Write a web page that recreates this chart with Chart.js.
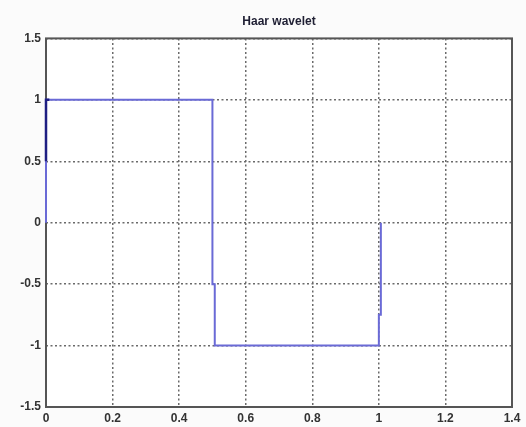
<!DOCTYPE html>
<html>
<head>
<meta charset="utf-8">
<script src="https://cdn.jsdelivr.net/npm/chart.js@4/dist/chart.umd.min.js"></script>
<style>
  html, body { margin: 0; padding: 0; background: #fbfbfb; }
  #wrap { width: 526px; height: 427px; }
</style>
</head>
<body>
<div id="wrap"><canvas id="c" width="526" height="427"></canvas></div>
<script>
// Haar wavelet psi(t), sampled as a step curve
const haarX = [0, 0, 0.5, 0.5, 0.507, 0.507, 1.0, 1.0, 1.006, 1.006];
const haarY = [0, 1, 1, -0.5, -0.5, -1, -1, -0.75, -0.75, 0];

// overlapping samples on the rising edge at t = 0
const edgeX = [0, 0, 0.01];
const edgeY = [0.5, 1, 1];

const xTicks = [0, 0.2, 0.4, 0.6, 0.8, 1, 1.2, 1.4];
const yTicks = [-1.5, -1, -0.5, 0, 0.5, 1, 1.5];

const toPoints = (xs, ys) => xs.map((x, i) => ({ x, y: ys[i] }));

// white plot box with a dark frame on all four sides
const framePlugin = {
  id: 'frame',
  beforeDraw(chart) {
    const { ctx, chartArea: a } = chart;
    ctx.save();
    ctx.fillStyle = '#ffffff';
    ctx.fillRect(a.left, a.top, a.right - a.left, a.bottom - a.top);
    ctx.restore();
  },
  beforeDatasetsDraw(chart) {
    const { ctx, chartArea: a } = chart;
    ctx.save();
    ctx.strokeStyle = '#555555';
    ctx.lineWidth = 2;
    ctx.strokeRect(a.left, a.top, a.right - a.left, a.bottom - a.top);
    ctx.restore();
  }
};

const tickFont = { family: '"Liberation Sans", Arial, sans-serif', size: 12, weight: 'bold' };

new Chart(document.getElementById('c'), {
  type: 'scatter',
  data: {
    datasets: [
      {
        // drawn on top of the main curve
        data: toPoints(edgeX, edgeY),
        showLine: true,
        borderColor: '#1e1e82',
        borderWidth: 2.5,
        pointRadius: 0,
        clip: false,
        order: 0
      },
      {
        data: toPoints(haarX, haarY),
        showLine: true,
        borderColor: '#6a6ad6',
        borderWidth: 2,
        pointRadius: 0,
        tension: 0,
        clip: false,
        order: 1
      }
    ]
  },
  options: {
    responsive: false,
    animation: false,
    devicePixelRatio: 1,
    layout: { padding: { left: 0, right: 14, top: 0, bottom: 0 } },
    plugins: {
      legend: { display: false },
      tooltip: { enabled: false },
      title: {
        display: true,
        fullSize: false,
        text: 'Haar wavelet',
        color: '#1f1f33',
        font: { family: '"Liberation Sans", Arial, sans-serif', size: 12, weight: 'bold' },
        padding: { top: 14, bottom: 10 }
      }
    },
    scales: {
      x: {
        type: 'linear',
        min: 0,
        max: 1.4,
        afterBuildTicks(scale) { scale.ticks = xTicks.map(v => ({ value: v })); },
        afterFit(scale) { scale.height = 20; },
        ticks: {
          color: '#333333',
          font: tickFont,
          padding: 4,
          maxRotation: 0,
          callback: v => String(v)
        },
        grid: { color: '#6a6a6a', lineWidth: 1.5, tickLength: 0, drawTicks: false },
        border: { display: false, dash: [2, 2.5] }
      },
      y: {
        type: 'linear',
        min: -1.5,
        max: 1.5,
        afterBuildTicks(scale) { scale.ticks = yTicks.map(v => ({ value: v })); },
        afterFit(scale) { scale.width = 46; },
        ticks: {
          color: '#333333',
          font: tickFont,
          padding: 5,
          callback: v => String(v)
        },
        grid: { color: '#6a6a6a', lineWidth: 1.5, tickLength: 0, drawTicks: false },
        border: { display: false, dash: [2, 2.5] }
      }
    }
  },
  plugins: [framePlugin]
});
</script>
</body>
</html>
